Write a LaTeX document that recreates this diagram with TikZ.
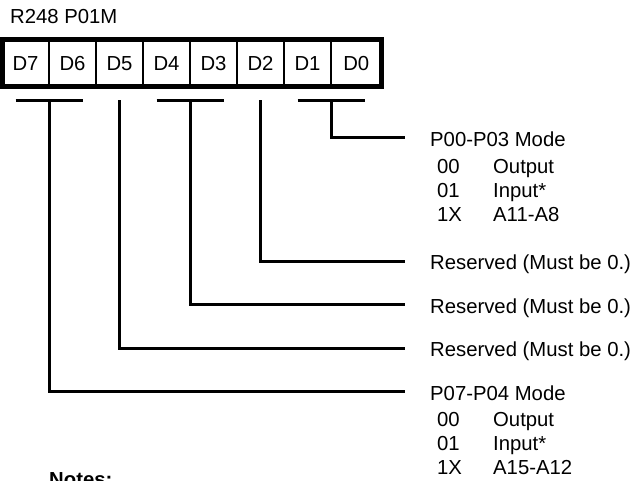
\documentclass[tikz,border=0pt]{standalone}
\usepackage{fontspec}
\setmainfont{Liberation Sans}
\usetikzlibrary{positioning,calc}
\newcommand{\regfont}{\fontsize{20.3}{24}\selectfont}
\tikzset{
  bitcell/.style    = {draw, line width=2.5pt, minimum width=47pt, minimum height=47pt,
                       inner sep=0pt, outer sep=0pt, text height=14.6pt, text depth=0pt},
  regframe/.style   = {draw, line width=5pt},
  wire/.style       = {line width=3pt, line join=miter},
  lbl/.style        = {inner sep=0pt, anchor=base west},
  node distance     = 0pt,
  every node/.style = {font=\regfont},
}

\begin{document}
\begin{tikzpicture}[x=1pt,y=1pt]
  \useasboundingbox (0,0) rectangle (637,480);
  \node[lbl] (title) at (10,456.7) {R248 P01M};
  % register cells
  \node[bitcell] (b7) at (25.5,417) {D7};
  \node[bitcell, right=of b7] (b6) {D6};
  \node[bitcell, right=of b6] (b5) {D5};
  \node[bitcell, right=of b5] (b4) {D4};
  \node[bitcell, right=of b4] (b3) {D3};
  \node[bitcell, right=of b3] (b2) {D2};
  \node[bitcell, right=of b2] (b1) {D1};
  \node[bitcell, right=of b1, minimum width=50.5pt] (b0) {D0};
  \draw[regframe] (b7.north west) rectangle (b0.south east);
  % bracket tops
  \coordinate (k76) at ($(b7.south east)+(0,-14)$);
  \coordinate (k5)  at ($(b5.south)+(0,-14)$);
  \coordinate (k43) at ($(b4.south east)+(0,-14)$);
  \coordinate (k2)  at ($(b2.south)+(0,-14)$);
  \coordinate (k10) at ($(b1.south east)+(0,-14)$);
  % line ends
  \coordinate (e10) at (405,342);
  \coordinate (e2)  at (405,219);
  \coordinate (e43) at (405,175.5);
  \coordinate (e5)  at (405,132);
  \coordinate (e76) at (405,88.5);
  \draw[wire] ($(k76)+(-33.5,0)$) -- ++(67,0);
  \draw[wire] ($(k43)+(-33.5,0)$) -- ++(67,0);
  \draw[wire] ($(k10)+(-33.5,0)$) -- ++(67,0);
  \draw[wire] (k10) |- (e10);
  \draw[wire] (k2) |- (e2);
  \draw[wire] (k43) |- (e43);
  \draw[wire] (k5) |- (e5);
  \draw[wire] (k76) |- (e76);
  % field labels
  \node[lbl] (m10) at ($(e10)+(25,-8.7)$) {P00-P03 Mode};
  \node[lbl] (m10list) at ($(m10.base west)+(7,-26.6)$)
    {\begin{tabular}[t]{@{}p{56pt}@{}l@{}}00 & Output\\ 01 & Input*\\ 1X & A11-A8\end{tabular}};
  \node[lbl] (r2)  at ($(e2)+(25,-8.7)$) {Reserved (Must be 0.)};
  \node[lbl] (r43) at ($(e43)+(25,-8.7)$) {Reserved (Must be 0.)};
  \node[lbl] (r5)  at ($(e5)+(25,-8.7)$) {Reserved (Must be 0.)};
  \node[lbl] (m76) at ($(e76)+(25,-8.7)$) {P07-P04 Mode};
  \node[lbl] (m76list) at ($(m76.base west)+(7,-26.6)$)
    {\begin{tabular}[t]{@{}p{56pt}@{}l@{}}00 & Output\\ 01 & Input*\\ 1X & A15-A12\end{tabular}};
  \node[lbl, font=\regfont\bfseries] (notes) at (49,-6.5) {Notes:};
\end{tikzpicture}
\end{document}
